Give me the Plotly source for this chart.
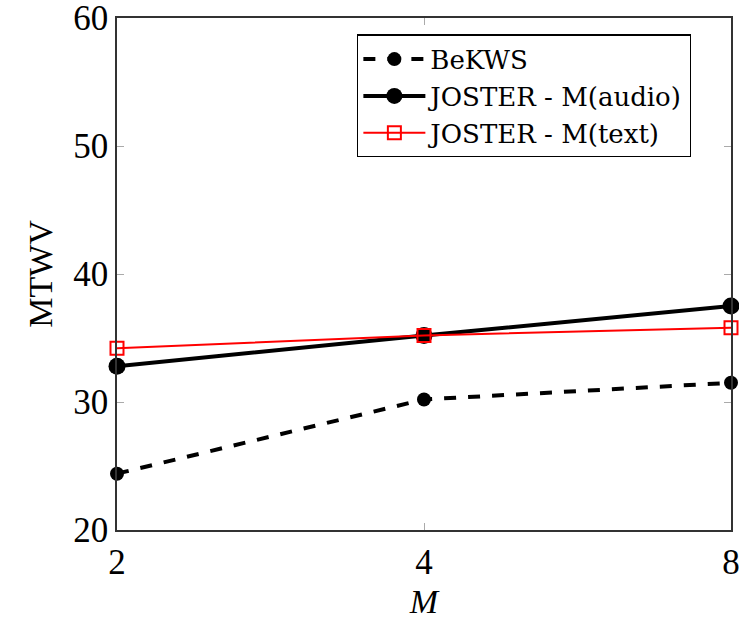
import plotly.graph_objects as go

M_labels = ["2", "4", "8"]
bekws = [24.4, 30.2, 31.5]
joster_audio = [32.8, 35.2, 37.5]
joster_text = [34.2, 35.2, 35.8]

FONT = "Liberation Serif"

fig = go.Figure()
fig.add_trace(go.Scatter(
    x=M_labels, y=bekws, name="BeKWS", mode="lines+markers",
    line=dict(color="black", width=4, dash="dash"),
    marker=dict(symbol="circle", size=14, color="black"),
    cliponaxis=False,
))
fig.add_trace(go.Scatter(
    x=M_labels, y=joster_audio, name="JOSTER - M(audio)", mode="lines+markers",
    line=dict(color="black", width=4),
    marker=dict(symbol="circle", size=17, color="black"),
    cliponaxis=False,
))
fig.add_trace(go.Scatter(
    x=M_labels, y=joster_text, name="JOSTER - M(text)", mode="lines+markers",
    line=dict(color="red", width=2),
    marker=dict(symbol="square-open", size=13, color="red", line=dict(width=2)),
    cliponaxis=False,
))

fig.update_layout(
    width=739, height=621,
    margin=dict(l=117, r=8, t=18, b=91, autoexpand=False),
    paper_bgcolor="white", plot_bgcolor="white",
    font=dict(family=FONT, size=34, color="black"),
    showlegend=True,
    legend=dict(
        x=0.391, y=0.968, xanchor="left", yanchor="top",
        bordercolor="black", borderwidth=1.3, bgcolor="white",
        font=dict(family="DejaVu Serif", size=26),
        itemwidth=62, tracegroupgap=0,
    ),
)
fig.update_xaxes(
    type="category", categoryorder="array", categoryarray=M_labels,
    range=[0, 2], showgrid=False, zeroline=False, automargin=False,
    showline=True, linecolor="#333333", linewidth=1.5, mirror="ticks",
    ticks="inside", ticklen=7, tickcolor="#aaaaaa", tickwidth=1,
    tickfont=dict(size=35), ticklabeloverflow="allow",
    title=dict(text="<i>M</i>", font=dict(size=34), standoff=8),
)
fig.update_yaxes(
    range=[20, 60], tickvals=[20, 30, 40, 50, 60], showgrid=False, zeroline=False,
    automargin=False,
    showline=True, linecolor="#333333", linewidth=1.5, mirror="ticks",
    ticks="inside", ticklen=7, tickcolor="#aaaaaa", tickwidth=1,
    tickfont=dict(size=35), ticklabeloverflow="allow",
    title=dict(text="MTWV", font=dict(size=34), standoff=10),
)

fig.write_html("out.html")
